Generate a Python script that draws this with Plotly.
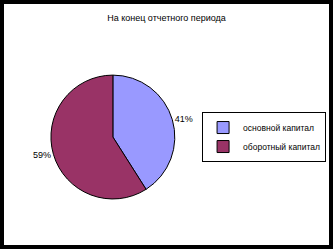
import plotly.graph_objects as go

labels = ["основной капитал", "оборотный капитал"]
values = [41, 59]
colors = ["#9999FF", "#993366"]
title_text = "На конец отчетного периода"

fig = go.Figure()
fig.add_trace(go.Pie(
    labels=labels, values=values, sort=False, direction="clockwise", rotation=0,
    marker=dict(colors=colors, line=dict(color="black", width=1)),
    texttemplate="%{percent:.0%}", textposition="outside",
    textfont=dict(family="Liberation Sans, Arial", size=9, color="black"),
    domain=dict(x=[0.05, 0.62], y=[0.191, 0.705]),
    showlegend=True,
))
fig.add_shape(type="rect", xref="paper", yref="paper", x0=0, x1=1, y0=0, y1=1,
              fillcolor="white", line=dict(width=0), layer="below")
fig.update_layout(
    width=333, height=249,
    margin=dict(l=4, r=4, t=4, b=4, autoexpand=False),
    paper_bgcolor="black", plot_bgcolor="white",
    title=dict(text=title_text, x=0.5, xanchor="center", y=1 - 18/249, yanchor="middle",
               font=dict(family="Liberation Sans, Arial", size=9, color="black")),
    legend=dict(x=0.991, y=0.448, xanchor="right", yanchor="middle",
                bgcolor="white", bordercolor="black", borderwidth=1,
                font=dict(family="Liberation Sans, Arial", size=8.5, color="black"),
                itemwidth=30),
)
fig.write_html("out.html")
